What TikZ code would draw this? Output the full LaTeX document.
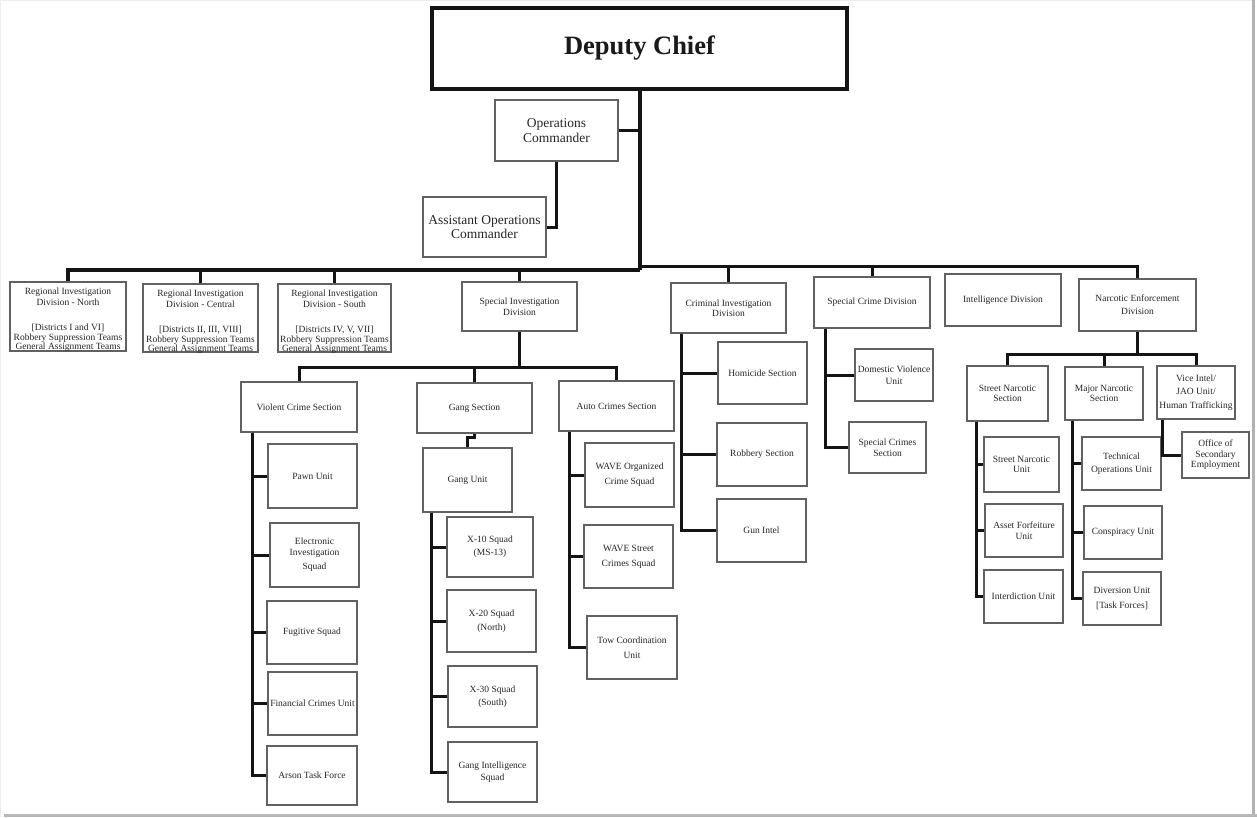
\documentclass[tikz,border=0pt]{standalone}
\usepackage{fontspec}
\setmainfont{Liberation Serif}

\tikzset{
  box/.style={draw=black!62, line width=1.2pt, fill=white, inner sep=0pt,
    align=center, text=black!85, font=\fontsize{9.5}{10.5}\selectfont},
  txt/.style={inner sep=0pt, align=center, text=black!85,
    font=\fontsize{9.5}{10.5}\selectfont},
  chief/.style={box, draw=black!92, line width=3.5pt,
    font=\fontsize{26.5}{30}\selectfont\bfseries, text=black!90},
  cmd/.style={box, font=\fontsize{13.5}{14.5}\selectfont},
  conn/.style={draw=black!92, line width=3pt, line join=miter},
  trunk/.style={conn, line width=4pt},
  frame/.style={line width=3pt}
}

% \orgbox[options]{name}{x1}{y1}{x2}{y2}{text}: a box given by its corners
\newcommand\orgbox[7][]{%
  \node[box,#1,minimum width={(#5-#3)*1pt},minimum height={(#6-#4)*1pt}]
    (#2) at ({(#3+#5)/2},{(#4+#6)/2}) {#7};}

\begin{document}
\begin{tikzpicture}[x=1pt,y=-1pt]
\fill[white] (0,0) rectangle (1257,817);
\useasboundingbox (0,0) rectangle (1257,817);

% page edge and its shadow
\draw[gray!15, line width=1pt] (0.5,817) -- (0.5,0.5) -- (1252,0.5);
\draw[gray!60, frame] (1253.5,0) -- (1253.5,817);
\draw[gray!55, line width=2.5pt] (4,815.5) -- (1257,815.5);

% command staff
\orgbox[chief]{dc}{432}{8}{847}{89}{Deputy Chief}
\orgbox[cmd]{ops}{495}{100}{618}{161}{Operations\\Commander}
\orgbox[cmd]{aoc}{423}{197}{546}{257}{Assistant Operations\\Commander}

% divisions
\orgbox{rn}{10}{282}{126}{351}{}
\orgbox{rc}{143}{284}{258}{352}{}
\orgbox{rs}{278}{284}{391}{352}{}
\node[txt, anchor=north] (rnt) at ([yshift=-6.5pt]rn.north)
  {Regional Investigation\\Division - North\\[15pt]{[}Districts I and VI]\\[-1pt]Robbery Suppression Teams\\[-1.5pt]General Assignment Teams};
\node[txt, anchor=north] (rct) at ([yshift=-6.5pt]rc.north)
  {Regional Investigation\\Division - Central\\[15pt]{[}Districts II, III, VIII]\\[-1pt]Robbery Suppression Teams\\[-1.5pt]General Assignment Teams};
\node[txt, anchor=north] (rst) at ([yshift=-6.5pt]rs.north)
  {Regional Investigation\\Division - South\\[15pt]{[}Districts IV, V, VII]\\[-1pt]Robbery Suppression Teams\\[-1.5pt]General Assignment Teams};
\orgbox{sid}{462}{282}{577}{331}{Special Investigation\\Division}
\orgbox{cid}{671}{283}{786}{333}{Criminal Investigation\\Division}
\orgbox{scd}{814}{277}{930}{328}{Special Crime Division}
\orgbox{intel}{945}{274}{1061}{326}{Intelligence Division}
\orgbox{ned}{1079}{279}{1196}{331}{Narcotic Enforcement\\[2.5pt]Division}

% Special Investigation Division
\orgbox{vcs}{241}{382}{357}{432}{Violent Crime Section}
\orgbox{pawn}{268}{444}{357}{508}{Pawn Unit}
\orgbox{eis}{270}{523}{359}{587}{Electronic\\Investigation\\[4pt]Squad}
\orgbox{fug}{267}{601}{357}{664}{Fugitive Squad}
\orgbox{fin}{268}{672}{357}{735}{Financial Crimes Unit}
\orgbox{arson}{267}{746}{357}{805}{Arson Task Force}
\orgbox{gs}{417}{383}{532}{433}{Gang Section}
\orgbox{gu}{423}{448}{512}{512}{Gang Unit}
\orgbox{x10}{447}{517}{533}{577}{X-10 Squad\\[2.5pt](MS-13)}
\orgbox{x20}{447}{590}{536}{652}{X-20 Squad\\[3pt](North)}
\orgbox{x30}{448}{666}{537}{727}{X-30 Squad\\[2.5pt](South)}
\orgbox{gis}{448}{742}{537}{802}{Gang Intelligence\\[1.5pt]Squad}
\orgbox{acs}{559}{381}{674}{431}{Auto Crimes Section}
\orgbox{wave1}{585}{443}{674}{507}{WAVE Organized\\[4.5pt]Crime Squad}
\orgbox{wave2}{584}{525}{673}{588}{WAVE Street\\[4.5pt]Crimes Squad}
\orgbox{tow}{587}{616}{677}{679}{Tow Coordination\\[4.5pt]Unit}

% Criminal Investigation Division
\orgbox{hom}{718}{342}{807}{404}{Homicide Section}
\orgbox{rob}{717}{423}{807}{486}{Robbery Section}
\orgbox{gun}{717}{499}{806}{562}{Gun Intel}

% Special Crime Division
\orgbox{dvu}{855}{349}{933}{401}{Domestic Violence\\[1.5pt]Unit}
\orgbox{scs}{849}{422}{926}{473}{Special Crimes\\Section}

% Narcotic Enforcement Division
\orgbox{sns}{967}{366}{1048}{421}{Street Narcotic\\Section}
\orgbox{mns}{1065}{367}{1143}{420}{Major Narcotic\\Section}
\orgbox{vice}{1157}{366}{1235}{419}{Vice Intel/\\[3pt]JAO Unit/\\[3pt]Human Trafficking}
\orgbox{ose}{1182}{432}{1249}{478}{Office of\\Secondary\\Employment}
\orgbox{snu}{984}{437}{1059}{492}{Street Narcotic\\Unit}
\orgbox{afu}{985}{504}{1063}{557}{Asset Forfeiture\\Unit}
\orgbox{intd}{984}{570}{1063}{623}{Interdiction Unit}
\orgbox{tou}{1082}{437}{1161}{490}{Technical\\[3pt]Operations Unit}
\orgbox{cu}{1084}{506}{1162}{559}{Conspiracy Unit}
\orgbox{du}{1083}{572}{1161}{625}{Diversion Unit\\[4.5pt]{[}Task Forces]}

% junction points of the buses
\coordinate (hubL) at (639.5,270);
\coordinate (hubR) at (639.5,266);
\coordinate (sidhub) at (519.5,367);
\coordinate (nedhub) at (1137.5,354);

% command chain
\draw[trunk] (dc.south) -- (hubL);
\draw[conn] (ops.east) -- (ops.east -| dc.south);
\draw[conn] (ops.south) |- (aoc.east);

% division bus
\draw[trunk] (hubL) -| (rn.north);
\draw[conn] (hubL) -| (rc.north);
\draw[conn] (hubL) -| (rs.north);
\draw[conn] (hubL) -| (sid.north);
\draw[conn] (hubR) -| (cid.north);
\draw[conn] (hubR) -| (scd.north);
\draw[conn] (hubR) -| (ned.north);

% Special Investigation Division sections
\draw[conn] (sid.south) -- (sidhub);
\draw[conn] (sidhub) -| (vcs.north);
\draw[conn] (sidhub) -| (gs.north);
\draw[conn] (sidhub) -| (acs.north);
\foreach \u in {pawn,eis,fug,fin,arson}
  \draw[conn] ([xshift=12pt]vcs.south west) |- (\u.west);
\draw[conn] (gs.south) -- ++(0,4) -| (gu.north);
\foreach \u in {x10,x20,x30,gis}
  \draw[conn] ([xshift=9pt]gu.south west) |- (\u.west);
\foreach \u in {wave1,wave2,tow}
  \draw[conn] ([xshift=11pt]acs.south west) |- (\u.west);

% Criminal Investigation and Special Crime divisions
\foreach \u in {hom,rob,gun}
  \draw[conn] ([xshift=11pt]cid.south west) |- (\u.west);
\foreach \u in {dvu,scs}
  \draw[conn] ([xshift=12pt]scd.south west) |- (\u.west);

% Narcotic Enforcement Division sections
\draw[conn] (ned.south) -- (nedhub);
\draw[conn] (nedhub) -| (sns.north);
\draw[conn] (nedhub) -| (mns.north);
\draw[conn] (nedhub) -| (vice.north);
\foreach \u in {snu,afu,intd}
  \draw[conn] ([xshift=10pt]sns.south west) |- (\u.west);
\foreach \u in {tou,cu,du}
  \draw[conn] ([xshift=8pt]mns.south west) |- (\u.west);
\draw[conn] ([xshift=6pt]vice.south west) |- (ose.west);
\end{tikzpicture}
\end{document}
